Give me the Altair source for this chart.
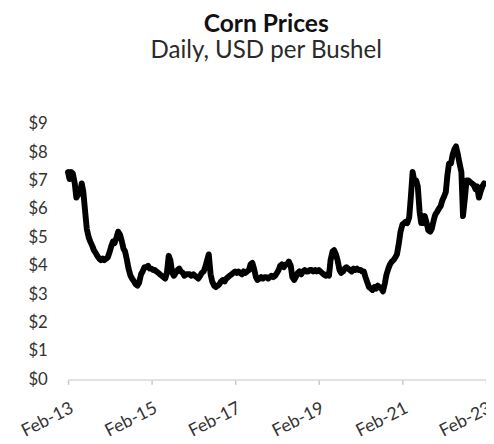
import altair as alt
import pandas as pd

# Semi-monthly readings (1st and 15th of each month), USD per bushel
y2013 = [7.30, 7.05, 7.30, 7.25, 6.90, 6.40, 6.50, 6.55, 6.90, 6.60, 5.90,
         5.30, 5.00, 4.85, 4.70, 4.55, 4.45, 4.35, 4.25, 4.20, 4.25, 4.20]
y2014 = [4.25, 4.30, 4.50, 4.70, 4.85, 4.80, 5.00, 5.20, 5.10, 4.90, 4.60, 4.50,
         4.20, 3.90, 3.65, 3.55, 3.45, 3.35, 3.30, 3.40, 3.70, 3.80, 3.95, 3.95]
y2015 = [4.00, 3.90, 3.90, 3.85, 3.85, 3.80, 3.75, 3.70, 3.65, 3.60, 3.55, 3.75,
         4.35, 4.20, 3.75, 3.65, 3.75, 3.85, 3.90, 3.80, 3.75, 3.65, 3.70, 3.70]
y2016 = [3.70, 3.65, 3.70, 3.65, 3.60, 3.55, 3.65, 3.75, 3.80, 3.95, 4.20, 4.40,
         3.70, 3.45, 3.30, 3.25, 3.30, 3.35, 3.45, 3.50, 3.45, 3.55, 3.60, 3.65]
y2017 = [3.70, 3.75, 3.80, 3.75, 3.80, 3.75, 3.70, 3.80, 3.75, 3.80, 3.85, 4.05,
         4.10, 3.90, 3.60, 3.50, 3.55, 3.60, 3.55, 3.60, 3.60, 3.55, 3.60, 3.65]
y2018 = [3.60, 3.65, 3.75, 3.85, 4.00, 4.05, 3.95, 4.05, 4.05, 4.15, 4.00, 3.60,
         3.50, 3.60, 3.75, 3.80, 3.70, 3.80, 3.85, 3.80, 3.80, 3.85, 3.85, 3.80]
y2019 = [3.85, 3.80, 3.85, 3.80, 3.75, 3.70, 3.65, 3.70, 3.65, 4.20, 4.50, 4.55,
         4.40, 4.20, 3.85, 3.75, 3.80, 3.90, 3.95, 3.90, 3.85, 3.80, 3.90, 3.85]
y2020 = [3.90, 3.85, 3.85, 3.80, 3.80, 3.60, 3.40, 3.25, 3.20, 3.15, 3.25, 3.20,
         3.30, 3.25, 3.20, 3.10, 3.40, 3.70, 3.90, 4.05, 4.15, 4.20, 4.30, 4.40]
y2021 = [4.80, 5.20, 5.45, 5.50, 5.55, 5.50, 5.70, 6.40, 7.30, 7.00, 7.00, 6.80,
         5.90, 5.50, 5.50, 5.75, 5.50, 5.25, 5.20, 5.30, 5.60, 5.80, 5.90, 6.00]
y2022 = [6.10, 6.30, 6.45, 6.60, 7.20, 7.60, 7.60, 7.90, 8.10, 8.20, 7.90, 7.60,
         7.30, 5.75, 6.40, 7.00, 7.00, 6.95, 6.90, 6.85, 6.70, 6.80, 6.40, 6.60]
y2023 = [6.80, 6.90]

prices = y2013 + y2014 + y2015 + y2016 + y2017 + y2018 + y2019 + y2020 + y2021 + y2022 + y2023
dates = pd.date_range("2013-02-01", periods=len(prices), freq="SMS").strftime("%Y-%m-%d").tolist()

tick_years = [2013, 2015, 2017, 2019, 2021, 2023]
y_ticks = [0, 1, 2, 3, 4, 5, 6, 7, 8, 9]

df = pd.DataFrame({"date": dates, "price": prices})

def dt(y):
    return alt.DateTime(year=y, month=2, date=1, utc=True)

chart = (
    alt.Chart(df)
    .mark_line(color="black", strokeWidth=6, strokeJoin="round", strokeCap="round")
    .encode(
        x=alt.X(
            "date:T",
            scale=alt.Scale(type="utc", domain=[dt(2013), dt(2023)]),
            axis=alt.Axis(
                values=[dt(y) for y in tick_years],
                labelExpr="utcFormat(datum.value, '%b-%y')",
                title=None,
                grid=False,
                domainColor="#d9d9d9",
                domainWidth=1.5,
                tickColor="#c8c8c8",
                tickSize=5,
                tickWidth=1.5,
                labelAngle=-27,
                labelAlign="right",
                labelBaseline="top",
                labelPadding=15,
                labelFont="Lato",
                labelFontSize=18,
                labelColor="#333333",
                labelOverlap=False,
                labelBound=False,
                labelFlush=False,
            ),
        ),
        y=alt.Y(
            "price:Q",
            scale=alt.Scale(domain=[0, 9], nice=False),
            axis=alt.Axis(
                values=y_ticks,
                format="$.0f",
                title=None,
                grid=False,
                domain=False,
                ticks=False,
                labelPadding=21,
                labelFont="Lato",
                labelFontSize=17,
                labelColor="#333333",
            ),
        ),
    )
    .properties(
        width=425,
        height=260,
        title=alt.TitleParams(
            text="Corn Prices",
            subtitle="Daily, USD per Bushel",
            font="Lato",
            fontSize=25,
            fontWeight="bold",
            color="#111111",
            subtitleFont="Lato",
            subtitleFontSize=24.5,
            subtitleColor="#2a2a2a",
            subtitlePadding=3,
            anchor="middle",
            frame="group",
            dx=-11,
            offset=53,
        ),
        autosize=alt.AutoSizeParams(type="none"),
        padding={"left": 61, "top": 114, "right": 0, "bottom": 62},
    )
    .configure_view(stroke=None)
)

chart.save("out.html", embed_options={"renderer": "svg", "actions": False})
